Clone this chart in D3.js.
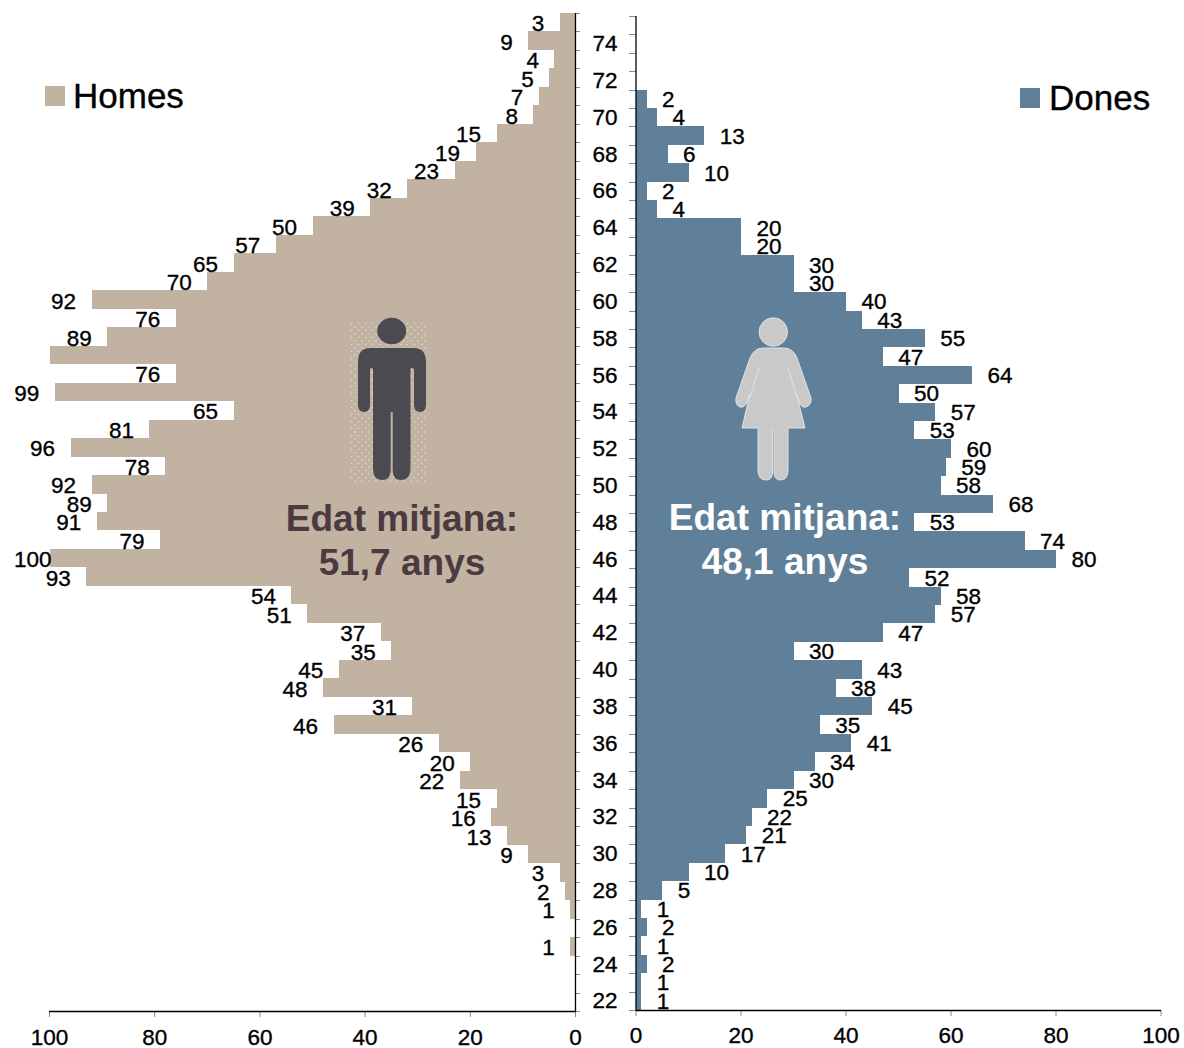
<!DOCTYPE html>
<html><head><meta charset="utf-8">
<script src="https://cdnjs.cloudflare.com/ajax/libs/d3/7.8.5/d3.min.js"></script>
<style>html,body{margin:0;padding:0;background:#fff}svg{display:block}
text{font-family:"Liberation Sans",Arial,sans-serif;fill:#000}
.t{stroke:#000;stroke-width:.35px}</style></head>
<body><svg id="c" width="1184" height="1048"></svg>
<script>
const ages = d3.range(75, 21, -1);
const homes = [3,9,4,5,7,8,15,19,23,32,39,50,57,65,70,92,76,89,100,76,99,65,81,96,78,92,89,91,79,100,93,54,51,37,35,45,48,31,46,26,20,22,15,16,13,9,3,2,1,0,1,0,0,0];
const dones = [0,0,0,0,2,4,13,6,10,2,4,20,20,30,30,40,43,55,47,64,50,57,53,60,59,58,68,53,74,80,52,58,57,47,30,43,38,45,35,41,34,30,25,22,21,17,10,5,1,2,1,2,1,1];
const unlabelledHomesAges = [57];
const xTicks = [0,20,40,60,80,100];
const ageLabels = ages.filter(a => a % 2 === 0);
const seriesNames = ["Homes","Dones"];
const meanText = [["Edat mitjana:","51,7 anys"],["Edat mitjana:","48,1 anys"]];
const colors = {homes:"#c2b2a2", dones:"#607f98", man:"#4a4a50", woman:"#c9c9c9", meanL:"#4b3a40"};

const svg = d3.select("#c");
const xL = d3.scaleLinear().domain([0,100]).range([575.5,49.5]);
const xR = d3.scaleLinear().domain([0,100]).range([636,1161]);
const yL = d3.scaleBand().domain(ages).range([13,1011]);
const yR = d3.scaleBand().domain(ages).range([16,1010]);
const rowsL = ages.map((a,i)=>({a,v:homes[i]})).filter(d=>d.v>0);
const rowsR = ages.map((a,i)=>({a,v:dones[i]})).filter(d=>d.v>0);
const top_ = (y,a)=>Math.round(y(a));
const hgt = (y,a)=>Math.round(y(a)+y.bandwidth())-Math.round(y(a));

svg.append("g").attr("shape-rendering","crispEdges").selectAll("rect").data(rowsL).join("rect")
  .attr("x",d=>xL(d.v)).attr("width",d=>xL(0)-xL(d.v))
  .attr("y",d=>top_(yL,d.a)).attr("height",d=>hgt(yL,d.a)).attr("fill",colors.homes);
svg.append("g").attr("shape-rendering","crispEdges").selectAll("rect").data(rowsR).join("rect")
  .attr("x",xR(0)).attr("width",d=>xR(d.v)-xR(0))
  .attr("y",d=>top_(yR,d.a)).attr("height",d=>hgt(yR,d.a)).attr("fill",colors.dones);

// axes
const tickColor="#8a8a8a";
const gTicks=svg.append("g").attr("stroke",tickColor).attr("stroke-width",1);
gTicks.selectAll(".l").data(ages.concat([21])).join("line")
  .attr("x1",575.5).attr("x2",580)
  .attr("y1",a=>Math.round(a===21?1011:yL(a))+.5).attr("y2",a=>Math.round(a===21?1011:yL(a))+.5);
gTicks.selectAll(".r").data(ages.concat([21])).join("line")
  .attr("x1",629).attr("x2",636)
  .attr("y1",a=>Math.round(a===21?1010:yR(a))+.5).attr("y2",a=>Math.round(a===21?1010:yR(a))+.5);
gTicks.selectAll(".bl").data(xTicks).join("line")
  .attr("x1",d=>xL(d)).attr("x2",d=>xL(d)).attr("y1",1011).attr("y2",1017);
gTicks.selectAll(".br").data(xTicks).join("line")
  .attr("x1",d=>xR(d)).attr("x2",d=>xR(d)).attr("y1",1010).attr("y2",1016);
const ax=svg.append("g").attr("stroke","#000").attr("stroke-width",1.3);
ax.append("line").attr("x1",575.5).attr("x2",575.5).attr("y1",13).attr("y2",1011.5);
ax.append("line").attr("x1",636).attr("x2",636).attr("y1",16).attr("y2",1010.5);
ax.append("line").attr("x1",49).attr("x2",576).attr("y1",1011.5).attr("y2",1011.5);
ax.append("line").attr("x1",636).attr("x2",1161).attr("y1",1010.5).attr("y2",1010.5);

const fs=22.5;
svg.append("g").selectAll("text").data(ageLabels).join("text").attr("class","t")
  .attr("x",605).attr("y",a=>yR(a)+yR.bandwidth()/2-.5).attr("dy",".36em")
  .attr("text-anchor","middle").attr("font-size",fs).text(a=>a);
svg.append("g").selectAll("text").data(xTicks).join("text").attr("class","t")
  .attr("x",d=>xL(d)).attr("y",1045).attr("text-anchor","middle").attr("font-size",fs).text(d=>d);
svg.append("g").selectAll("text").data(xTicks).join("text").attr("class","t")
  .attr("x",d=>xR(d)).attr("y",1043).attr("text-anchor","middle").attr("font-size",fs).text(d=>d);

// value labels
svg.append("g").selectAll("text").data(rowsL.filter(d=>!unlabelledHomesAges.includes(d.a))).join("text").attr("class","t")
  .attr("y",d=>yL(d.a)+yL.bandwidth()/2+1).attr("dy",".36em").attr("font-size",fs)
  .attr("text-anchor","end").text(d=>d.v)
  .attr("x",function(d){return Math.max(xL(d.v)-15.5,14+this.getComputedTextLength());});
svg.append("g").selectAll("text").data(rowsR).join("text").attr("class","t")
  .attr("y",d=>yR(d.a)+yR.bandwidth()/2).attr("dy",".36em").attr("font-size",fs)
  .attr("x",d=>xR(d.v)+15.5).text(d=>d.v);

// legends
svg.append("rect").attr("x",45).attr("y",86).attr("width",20).attr("height",20).attr("fill",colors.homes);
svg.append("text").attr("class","t").attr("x",73).attr("y",108).attr("font-size",35).text(seriesNames[0]);
svg.append("rect").attr("x",1020).attr("y",88).attr("width",20).attr("height",20).attr("fill",colors.dones);
svg.append("text").attr("class","t").attr("x",1049).attr("y",110).attr("font-size",35).text(seriesNames[1]);

// mean age text
[[402,colors.meanL,[531,575]],[785,"#fff",[530,574]]].forEach((c,i)=>{
  meanText[i].forEach((t,j)=>svg.append("text").attr("x",c[0]).attr("y",c[2][j])
    .attr("text-anchor","middle").attr("font-size",37).attr("font-weight","bold")
    .style("fill",c[1]).text(t));
});

// icons
const defs=svg.append("defs");
const pat=defs.append("pattern").attr("id","dots").attr("width",7).attr("height",7).attr("patternUnits","userSpaceOnUse");
pat.append("circle").attr("cx",1.5).attr("cy",1.5).attr("r",.8).attr("fill","#e4dbd0");
pat.append("circle").attr("cx",5).attr("cy",5).attr("r",.8).attr("fill","#e4dbd0");
svg.append("rect").attr("x",350).attr("y",323).attr("width",78).attr("height",160).attr("fill","url(#dots)");
const man=svg.append("g").attr("fill",colors.man);
man.append("ellipse").attr("cx",391.7).attr("cy",331).attr("rx",14.5).attr("ry",13.2);
man.append("path").attr("d","M370 348 H414 Q426 348 426 362 V405 Q426 412 420 412 Q414 412 414 405 V369 Q411.5 367 410.5 369 V468 Q410.5 480 401 480 Q392.7 480 392.7 470 V412 H390.7 V470 Q390.7 480 382 480 Q373 480 373 468 V369 Q372 367 370 369 V405 Q370 412 364 412 Q358 412 358 405 V362 Q358 348 370 348 Z");
const wom=svg.append("g").attr("fill",colors.woman).attr("stroke","#dfe4e8").attr("stroke-width",1);
wom.append("circle").attr("cx",773.3).attr("cy",332).attr("r",14.2);
wom.append("path").attr("d","M763 348 H784 Q793 348 797 358 L811 398 Q812 405 806 407 Q801 408 799 402 L796.5 394 L805 428 H788 V470 Q788 480 780.5 480 Q774 480 774 472 V429 H772.5 V472 Q772.5 480 766 480 Q758 480 758 470 V428 H742 L750 394 L747 402 Q745 408 740 407 Q735 405 736 398 L750 358 Q754 348 763 348 Z");
wom.append("path").attr("fill","none").attr("d","M788 368 L797 397 M759 368 L750 397");
</script></body></html>
